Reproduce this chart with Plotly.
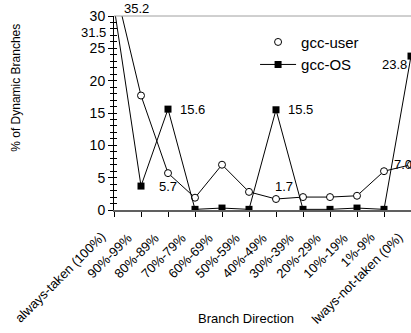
import plotly.graph_objects as go

FONT = "Liberation Sans, Arial, sans-serif"

categories = [
    "always-taken (100%)", "90%-99%", "80%-89%", "70%-79%", "60%-69%", "50%-59%",
    "40%-49%", "30%-39%", "20%-29%", "10%-19%", "1%-9%", "lways-not-taken (0%)",
]
gcc_user = [35.2, 17.7, 5.7, 1.9, 7.0, 2.8, 1.7, 2.0, 2.0, 2.2, 6.0, 7.0]
gcc_os = [31.5, 3.7, 15.6, 0.1, 0.3, 0.1, 15.5, 0.1, 0.1, 0.3, 0.1, 23.8]

x_idx = list(range(len(categories)))
Y_MAX = 30
X_MAX = len(categories) - 1

fig = go.Figure()

# user line without a legend entry (legend shows the bare marker only)
fig.add_scatter(
    x=x_idx, y=gcc_user, mode="lines+markers", name="gcc-user", showlegend=False,
    line={"color": "black", "width": 1},
    marker={"symbol": "circle", "size": 7, "color": "white", "line": {"color": "black", "width": 1}},
)
fig.add_scatter(
    x=[None], y=[None], mode="markers", name="gcc-user",
    marker={"symbol": "circle", "size": 7, "color": "white", "line": {"color": "black", "width": 1}},
)
fig.add_scatter(
    x=x_idx, y=gcc_os, mode="lines+markers", name="gcc-OS",
    line={"color": "black", "width": 1},
    marker={"symbol": "square", "size": 7, "color": "black"},
)

# data labels placed in paper coords: (value, x_cat, y_val, xanchor, xshift, yshift)
labels = [
    (gcc_user[0], 0.85, 31.2, "center", 0, 0),
    (gcc_os[0], 0, 27.5, "right", -6, 0),
    (gcc_os[2], 2, gcc_os[2], "left", 10, 0),
    (gcc_user[2], 2, gcc_user[2], "center", 0, -13),
    (gcc_os[6], 6, gcc_os[6], "left", 10, 0),
    (gcc_user[6], 6, gcc_user[6], "center", 8, 13),
    (gcc_os[11], 11, gcc_os[11], "right", -2, -8),
    (gcc_user[11], 11, gcc_user[11], "left", -19, 0),
]
for val, x, y, xa, xs, ys in labels:
    fig.add_annotation(
        x=x / X_MAX, y=y / Y_MAX, xref="paper", yref="paper", text=f"{val:.1f}",
        showarrow=False, xanchor=xa, yanchor="middle", xshift=xs, yshift=ys,
        font={"size": 13, "color": "black", "family": FONT},
    )

# slanted category labels, ending just left of each tick
for i, cat in enumerate(categories):
    fig.add_annotation(
        x=i / X_MAX, y=0, xref="paper", yref="paper", text=cat, textangle=-45,
        showarrow=False, xanchor="right", yanchor="top", xshift=-3, yshift=-17,
        font={"size": 13, "color": "black", "family": FONT},
    )

fig.add_annotation(
    x=0.444, y=-0.557, xref="paper", yref="paper", text="Branch Direction",
    xanchor="center", yanchor="middle",
    showarrow=False, font={"size": 13, "color": "black", "family": FONT},
)
fig.add_annotation(
    x=-0.33, y=0.63, xref="paper", yref="paper", text="% of Dynamic Branches",
    xanchor="center", yanchor="middle",
    textangle=-90, showarrow=False, font={"size": 12, "color": "black", "family": FONT},
)

# grey top border
fig.add_shape(type="line", xref="paper", yref="paper", x0=0, x1=1, y0=1, y1=1,
              line={"color": "#a0a0a0", "width": 1})

fig.update_layout(
    width=411, height=333,
    margin={"l": 114, "r": 0, "t": 16, "b": 123},
    paper_bgcolor="white", plot_bgcolor="white",
    font={"family": FONT, "color": "black"},
    showlegend=True,
    legend={
        "x": 0.475, "y": 0.95, "xanchor": "left", "yanchor": "top",
        "bgcolor": "rgba(0,0,0,0)", "font": {"size": 15, "family": FONT},
        "itemwidth": 36, "tracegroupgap": 0,
    },
    xaxis={
        "range": [0, X_MAX], "tickmode": "array", "tickvals": x_idx, "showticklabels": False,
        "showgrid": False, "zeroline": False,
        "showline": True, "linecolor": "#606060", "linewidth": 2,
        "ticks": "outside", "ticklen": 5, "tickcolor": "black", "automargin": False,
    },
    yaxis={
        "range": [0, Y_MAX], "dtick": 5, "tickfont": {"size": 14}, "showgrid": False,
        "zeroline": False, "showline": True, "linecolor": "black", "linewidth": 1,
        "ticks": "outside", "ticklen": 5, "tickcolor": "black", "automargin": False,
        "minor": {"dtick": 1, "ticks": "outside", "ticklen": 3, "tickcolor": "black"},
    },
    yaxis2={
        "range": [0, Y_MAX], "dtick": 5, "overlaying": "y", "side": "left",
        "showticklabels": False, "showgrid": False, "zeroline": False, "showline": False,
        "ticks": "inside", "ticklen": 3, "tickcolor": "black",
        "minor": {"dtick": 1, "ticks": "inside", "ticklen": 3, "tickcolor": "black"},
    },
)
# an invisible trace so the overlay axis is drawn
fig.add_scatter(x=[None], y=[None], yaxis="y2", showlegend=False, hoverinfo="skip")

fig.write_html("out.html", config={"displayModeBar": False},
               post_script="document.body.style.margin='0';")
